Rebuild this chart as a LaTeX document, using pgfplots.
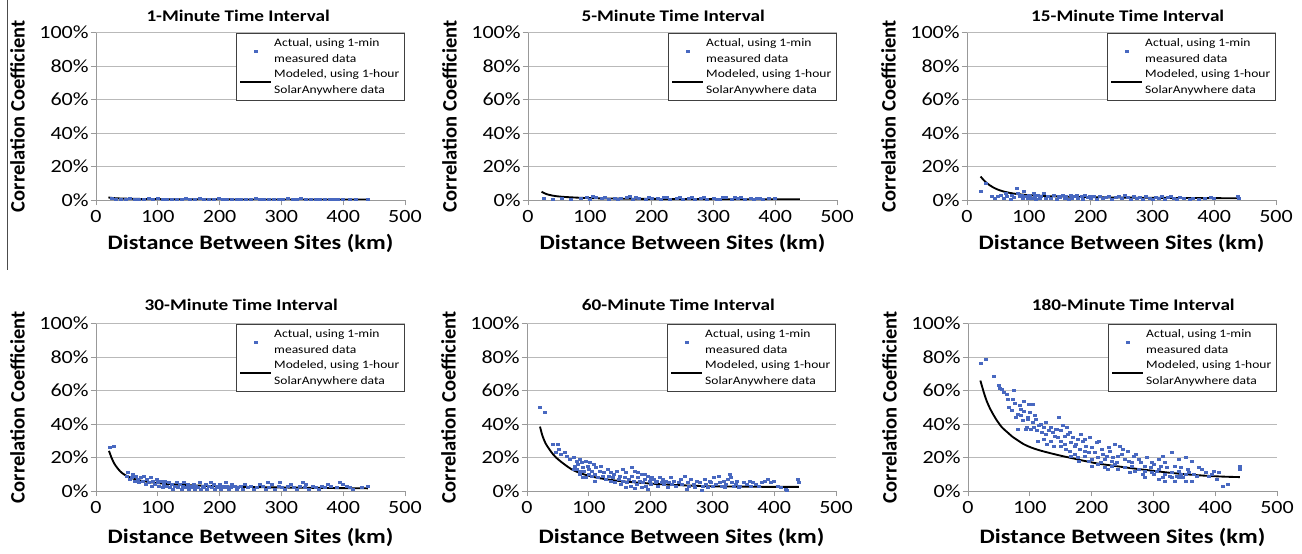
\documentclass[border=0pt]{standalone}
\usepackage{fontspec}
\setmainfont{Carlito}[FakeStretch=1.18]
\newfontfamily\plainfont{Carlito}
\usepackage{pgfplots}
\pgfplotsset{compat=1.18}
\definecolor{dotblue}{RGB}{72,104,192}

\pgfplotsset{
  every axis title shift=0pt,
  panel/.style={
    scale only axis, width=231.75pt, height=125.5pt,
    xmin=0, xmax=500, ymin=0, ymax=100,
    xtick={0,100,...,500}, ytick={0,20,...,100},
    axis x line*=bottom, axis y line*=left,
    axis line style={draw=gray!80, line width=0.6pt},
    ymajorgrids, grid style={draw=gray!55, line width=0.6pt},
    tick align=outside, major tick length=4pt,
    tick style={draw=gray!80, line width=0.6pt},
    tick label style={font=\fontsize{14}{16}\selectfont},
    yticklabel style={xshift=2pt},
    /pgf/number format/assume math mode=true,
    yticklabel={\pgfmathprintnumber{\tick}\%},
    xlabel={Distance Between Sites (km)},
    ylabel={Correlation Coefficient},
    xlabel style={font=\bfseries\fontsize{15.4}{17}\selectfont, anchor=center},
    ylabel style={font=\plainfont\bfseries\fontsize{15.4}{17}\selectfont,
      at={(axis description cs:-0.254,0.5)}, anchor=center},
    title style={font=\bfseries\fontsize{12.2}{14}\selectfont, anchor=center},
    legend style={at={(1,1)}, anchor=north east, draw=black!75, line width=0.6pt,
      font=\fontsize{8.6}{11.8}\selectfont, cells={align=left}, inner sep=2pt},
    legend cell align=left,
    legend image code/.code={\draw[mark repeat=2,mark phase=2,#1]
      plot coordinates {(0cm,0cm)(0.4cm,0cm)(0.8cm,0cm)};},
  },
  toprow/.style={xlabel style={at={(axis description cs:0.5,-0.258)}}},
  botrow/.style={xlabel style={at={(axis description cs:0.5,-0.28)}}},
  actual/.style={dotblue, only marks, mark=square*, mark size=0.75pt,
    mark options={draw=none, fill=dotblue, xscale=1.5}},
  model/.style={black, line width=1.4pt, no marks, smooth},
}

\begin{document}
\begin{tikzpicture}
\path[use as bounding box] (0,0) rectangle (976.5pt,414.75pt);
\draw[black!70, line width=0.5pt] (5.25pt,414.75pt) -- (5.25pt,212.25pt);

% ---- 1-minute
\begin{axis}[panel, toprow, at={(72pt,264.75pt)}, anchor=south west,
  title={1-Minute Time Interval}, title style={at={(axis description cs:0.46,1.10)}}]
\addplot[actual] coordinates {
(25,0.8)(32,0.3)(40,0.6)(48,0.2)(55,0.9)(62,0.4)(70,0.7)(78,0.2)(85,0.8)(92,0.5)
(100,0.9)(108,0.3)(115,0.6)(122,0.2)(130,0.7)(138,0.4)(145,0.8)(152,0.3)(160,0.6)
(168,0.9)(175,0.4)(182,0.7)(190,0.2)(198,0.8)(205,0.5)(212,0.3)(220,0.7)(228,0.4)
(235,0.6)(242,0.2)(250,0.5)(258,0.8)(265,0.3)(272,0.6)(280,0.4)(288,0.7)(295,0.2)
(302,0.5)(310,0.8)(318,0.3)(325,0.6)(332,0.9)(340,0.4)(348,0.6)(355,0.2)(362,0.5)
(370,0.3)(378,0.6)(385,0.2)(392,0.4)(400,0.3)(410,0.2)(420,0.4)(440,0.3)
};
\addlegendentry{Actual, using 1-min\\measured data}
\addplot[model] coordinates {
(20,1.5)(30,1.1)(40,0.9)(60,0.7)(100,0.5)(150,0.4)(200,0.35)(300,0.3)(440,0.25)
};
\addlegendentry{Modeled, using 1-hour\\SolarAnywhere data}
\end{axis}

% ---- 5-minute
\begin{axis}[panel, toprow, at={(396pt,264.75pt)}, anchor=south west,
  title={5-Minute Time Interval}, title style={at={(axis description cs:0.47,1.10)}}]
\addplot[actual] coordinates {
(25,1.0)(40,0.5)(55,1.0)(70,0.3)(85,1.0)(100,0.5)(105,2.0)(110,1.5)(120,1.0)(130,0.5)
(140,1.2)(150,0.8)(160,1.5)(165,2.0)(170,0.5)(180,1.0)(190,0.3)(200,1.2)(210,0.8)
(220,1.5)(225,1.8)(230,0.5)(240,1.0)(250,0.6)(260,1.3)(270,0.4)(280,1.0)(290,0.5)
(300,1.2)(310,0.6)(315,1.8)(320,1.4)(330,0.5)(340,1.0)(350,0.3)(360,0.8)(370,1.2)
(380,0.5)(390,1.0)(400,0.8)(95,1.4)(125,1.8)(145,0.4)(175,1.6)(195,1.9)(215,0.4)
(245,1.6)(265,1.8)(285,1.4)(305,0.3)(335,1.5)(345,1.7)(365,0.4)(375,0.9)
};
\addlegendentry{Actual, using 1-min\\measured data}
\addplot[model] coordinates {
(22,5.0)(25,4.3)(30,3.5)(40,2.6)(50,2.1)(60,1.8)(80,1.4)(100,1.1)(150,0.8)(200,0.65)(300,0.5)(440,0.4)
};
\addlegendentry{Modeled, using 1-hour\\SolarAnywhere data}
\end{axis}

% ---- 15-minute
\begin{axis}[panel, toprow, at={(725.25pt,264.75pt)}, anchor=south west,
  title={15-Minute Time Interval}, title style={at={(axis description cs:0.52,1.10)}}]
\addplot[actual] coordinates {
(22,5)(30,10)(40,2)(45,1)(50,2.5)(55,3)(60,1)(62,4)(65,2)(70,0.5)(72,3)(75,1.5)
(80,7)(82,4)(85,2)(88,3)(90,1)(92,5)(95,2)(98,1)(100,3)(102,2)(105,1)(108,4)(110,2)
(112,0.5)(115,3)(118,1)(120,2)(125,4)(128,1)(130,2.5)(135,1)(140,3)(145,0.5)(148,2)
(150,1.5)(155,3)(158,1)(160,2)(165,0.5)(168,3)(170,1)(175,2)(178,3)(180,1)(185,2)
(188,0.5)(190,3)(195,1.5)(198,2)(200,1)(205,2.5)(210,0.5)(215,2)(220,1)(225,1.5)
(230,2)(235,0.5)(240,1.5)(245,2)(250,1)(255,3)(260,1.5)(265,0.5)(270,2)(275,1)
(280,1.5)(285,0.5)(290,2)(295,1)(300,0.5)(305,1.5)(310,1)(315,2)(320,0.5)(325,1.5)
(330,2)(335,1)(340,0.5)(345,1.5)(350,1)(360,0.5)(365,1)(375,0.5)(385,1)(395,1.5)
(400,1)(438,2)(440,1)
};
\addlegendentry{Actual, using 1-min\\measured data}
\addplot[model] coordinates {
(22,14)(26,12.3)(30,10.8)(36,9.0)(42,7.6)(50,6.2)(60,5.0)(70,4.2)(80,3.6)(100,2.9)
(125,2.4)(150,2.1)(200,1.7)(250,1.45)(300,1.3)(350,1.2)(400,1.1)(440,1.05)
};
\addlegendentry{Modeled, using 1-hour\\SolarAnywhere data}
\end{axis}

% ---- 30-minute
\begin{axis}[panel, botrow, at={(72pt,46.5pt)}, anchor=south west,
  title={30-Minute Time Interval}, title style={at={(axis description cs:0.47,1.115)}}]
\addplot[actual] coordinates {
(22,26)(28,27)(50,9)(52,11)(55,7)(58,8)(60,10)(62,6)(65,9)(68,7)(70,5)(72,8)(75,6)
(78,9)(80,4)(82,7)(85,5)(88,8)(90,3)(92,6)(95,4)(98,7)(100,5)(102,3)(105,6)(108,2)
(110,4)(112,6)(115,3)(118,5)(120,2)(122,4)(125,1)(128,3)(130,5)(132,2)(135,4)(138,1)
(140,3)(142,5)(145,2)(148,4)(150,1)(152,3)(155,2)(158,4)(160,1)(162,3)(165,2)(168,5)
(170,1)(172,3)(175,2)(178,4)(180,1)(182,3)(185,5)(188,2)(190,4)(192,1)(195,3)(198,2)
(200,4)(202,1)(205,3)(208,2)(210,5)(212,3)(215,1)(218,2)(220,4)(225,3)(228,1)(230,2)
(235,3)(238,1)(240,4)(245,2)(250,3)(255,1)(260,2)(265,4)(270,3)(275,1)(278,5)(280,2)
(285,4)(290,1)(295,3)(298,5)(300,2)(305,1)(310,3)(315,4)(320,2)(325,1)(330,3)(335,5)
(338,2)(340,4)(345,1)(350,3)(355,2)(360,1)(365,3)(370,2)(375,4)(380,3)(390,2)(395,5)
(400,4)(405,3)(410,2)(415,1)(430,2)(440,3)
};
\addlegendentry{Actual, using 1-min\\measured data}
\addplot[model] coordinates {
(21,24)(25,20)(28,17.5)(32,15)(39,11.8)(45,10)(50,8.9)(60,7.4)(70,6.4)(80,5.7)
(100,4.7)(125,4.0)(150,3.5)(200,2.8)(250,2.4)(300,2.1)(350,1.9)(400,1.7)(440,1.6)
};
\addlegendentry{Modeled, using 1-hour\\SolarAnywhere data}
\end{axis}

% ---- 60-minute
\begin{axis}[panel, botrow, at={(395.25pt,46.5pt)}, anchor=south west,
  title={60-Minute Time Interval}, title style={at={(axis description cs:0.49,1.115)}}]
\addplot[actual] coordinates {
(20,50)(28,47)(41,28)(50,28)(52,25)(47,23)(55,22)(61,23)(64,21)
(70,19)(75,20)(80,18)(82,16)(85,19)(88,17)(90,14)(92,12)(95,18)(98,15)(100,13)(102,17)
(105,12)(108,16)(110,10)(112,14)(115,8)(118,12)(120,15)(122,9)(125,11)(128,7)(130,13)
(80,13)(85,10)(90,8)(95,8)(100,10)(105,9)(110,6)(75,13)(78,15)(86,12)
(132,9)(135,6)(138,8)(140,10)(142,5)(145,12)(148,7)(150,9)(152,4)(155,6)(158,8)(160,11)
(162,5)(165,7)(168,3)(170,9)(172,6)(175,12)(178,4)(180,8)(182,6)(185,10)(188,5)(190,7)
(192,3)(195,9)(198,6)(200,4)(202,8)(205,7)(208,5)(210,6)(212,3)(215,8)(218,5)(220,7)
(222,4)(225,6)(228,2)(230,5)(232,8)(235,4)(238,6)(240,3)(245,5)(248,7)(250,4)
(135,11)(155,13)(170,14)(180,11)(190,10)(200,7)(160,2)(185,2)(175,1.5)(195,1)
(255,9)(258,1)(260,5)(262,3)(265,7)(270,4)(272,2)(275,6)(280,5)(282,0.5)(285,3)(288,7)
(290,4)(292,2)(295,6)(298,5)(300,3)(302,8)(305,4)(310,9)(312,5)(315,3)(318,6)(320,2)
(322,4)(325,7)(328,10)(330,8)(332,5)(335,3)(338,4)(340,6)(342,2)(345,3)(350,5)(355,4)
(360,6)(362,3)(365,5)(370,4)(375,3)(380,5)(385,6)(390,7)(395,5)(400,6)(405,3)(410,2)
(418,1)(420,0.5)(438,7)(440,5)
};
\addlegendentry{Actual, using 1-min\\measured data}
\addplot[model] coordinates {
(21,38.5)(25,33)(30,28.5)(36,25)(42,22)(47,20)(55,17.5)(64,15)(72,13)(80,11.6)(90,10.2)
(102,8.9)(115,7.8)(129,7.0)(142,6.3)(156,5.7)(180,5.0)(210,4.2)(240,3.6)(265,3.2)
(290,2.9)(320,2.7)(350,2.6)(380,2.5)(410,2.5)(440,2.5)
};
\addlegendentry{Modeled, using 1-hour\\SolarAnywhere data}
\end{axis}

% ---- 180-minute
\begin{axis}[panel, botrow, at={(726pt,46.5pt)}, anchor=south west,
  title={180-Minute Time Interval}, title style={at={(axis description cs:0.535,1.115)}}]
\addplot[actual] coordinates {
(20,76.6)(29,78.6)(41,68.6)(50,63)(52,61.6)(54,61)(58,59)(62,58)(74,60)(64,55)(72,54.6)
(75,52.4)(83,51)(91,53.6)(99,52)(104,52)(80,46)(85,45)(91,47.4)(96,44)(77,44)(88,42)
(96,43)(104,41)(80,36.6)(94,37)(102,36.6)(107,38)(118,40)(126,41)(112,36)(123,38)
(134,38)(142,37)(147,44)(153,39)(126,34)(137,35)(145,32)(156,33)(161,34)(123,31)
(134,30)(150,30)(167,29)(178,31)(156,28)(172,27)(183,34)(189,31)(197,32)(164,24)
(172,22)(181,25)(189,24)(200,26)(208,29)(216,25)(227,26)(238,28)(246,27)(167,21)
(178,20)(189,21)(200,19)(210,20)(221,19)(232,18)(243,21)(254,19)(265,17)(276,19)
(200,15)(210,16)(221,14)(232,15)(243,13)(254,14)(265,15)(276,13)(286,15)(297,17)
(308,19)(319,17)(330,23)(341,19)(352,20)(362,18)(286,12)(297,11)(308,13)(319,10)
(330,11)(341,12)(352,10)(373,14)(384,11)(395,10)(406,11)(286,8)(308,7)(319,6)(330,8)
(352,6)(362,6)(412,3)(420,4)(439,15)(440,13)
(66,50)(70,48)(86,49)(110,43)(115,39)(120,35)(130,36)(140,33)(95,38)(100,47)(108,45)
(113,30)(128,28)(138,27)(143,37)(150,36)(158,25)(160,38)(165,35)(170,32)(175,28)
(185,30)(190,27)(195,23)(205,23)(212,30)(218,22)(225,21)(230,24)(235,20)(240,17)
(248,22)(250,25)(258,24)(260,18)(268,21)(272,22)(280,17)(290,20)(295,14)(300,16)
(305,12)(312,15)(315,21)(322,14)(326,9)(335,15)(338,9)(345,14)(348,8)(355,13)(358,11)
(365,10)(370,9)(378,13)(390,9)(398,12)(402,7)(345,10)(150,27)(180,18)(195,18)(215,17)
(226,13)(237,16)(262,11)(270,12)(282,10)(300,10)(315,8)(335,6)(341,8)
};
\addlegendentry{Actual, using 1-min\\measured data}
\addplot[model] coordinates {
(20,66)(25.5,59)(30,54)(36,49)(42,45)(47,42)(55,38)(64,35)(72,32.4)(80,30.4)(90,28)
(102,26)(115,24.4)(129,23)(142,21.8)(156,20.6)(170,19.5)(183,18.4)(196,17.4)(210,16.4)
(237,15)(265,13.6)(292,12.4)(319,11.2)(346,10.2)(373,9.4)(400,8.8)(420,8.5)(440,8.3)
};
\addlegendentry{Modeled, using 1-hour\\SolarAnywhere data}
\end{axis}
\end{tikzpicture}
\end{document}
